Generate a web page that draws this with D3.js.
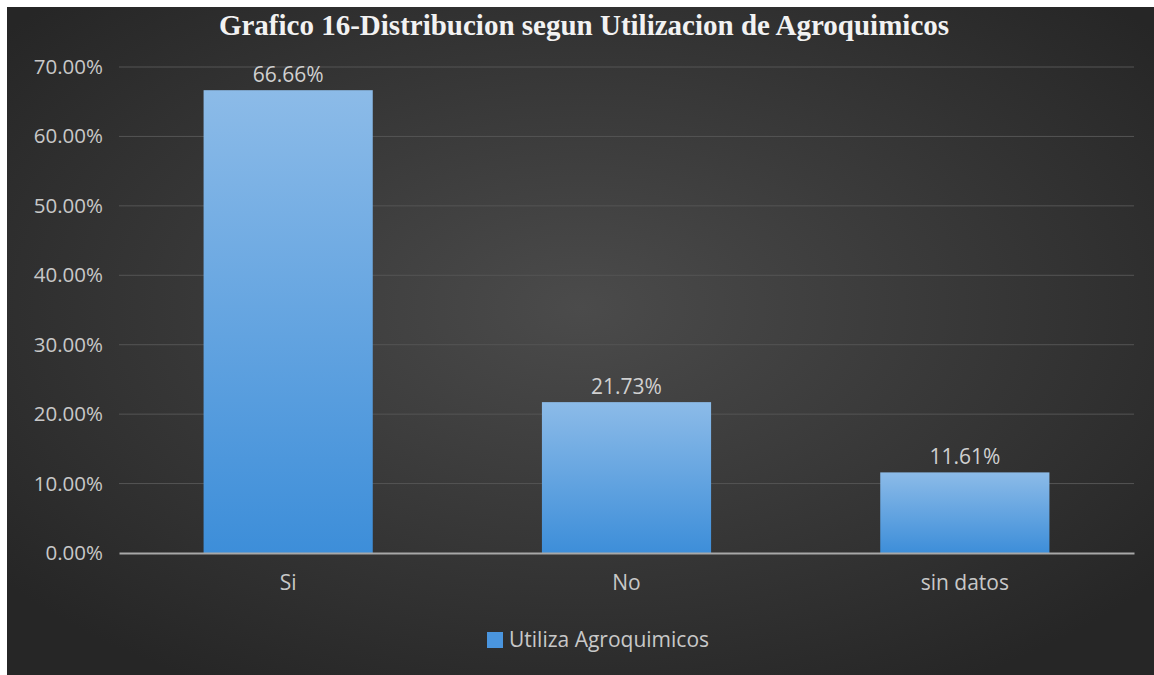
<!DOCTYPE html>
<html>
<head>
<meta charset="utf-8">
<script src="https://cdn.jsdelivr.net/npm/d3@7"></script>
<style>
  body { margin: 0; background: #fff; }
  text { font-family: "Open Sans", "Noto Sans", sans-serif; }
</style>
</head>
<body>
<div id="chart"></div>
<script>
// data
var categories = ["Si", "No", "sin datos"];
var values = [0.6666, 0.2173, 0.1161];
var yTicks = [0, 0.1, 0.2, 0.3, 0.4, 0.5, 0.6, 0.7];
var seriesName = "Utiliza Agroquimicos";
var title = "Grafico 16-Distribucion segun Utilizacion de Agroquimicos";

var svgWidth = 1154, svgHeight = 675;
var margin = {top: 67, right: 20, bottom: 122, left: 119};
var chartWidth = 1134 - margin.left;
var chartHeight = 553 - margin.top;

var svg = d3.select("#chart").append("svg")
  .attr("width", svgWidth)
  .attr("height", svgHeight);

var defs = svg.append("defs");
var bg = defs.append("radialGradient").attr("id", "bg")
  .attr("cx", "50%").attr("cy", "45%").attr("r", "65%");
bg.append("stop").attr("offset", "0%").attr("stop-color", "#4b4b4b");
bg.append("stop").attr("offset", "100%").attr("stop-color", "#262626");

var barGrad = defs.append("linearGradient").attr("id", "bar")
  .attr("x1", 0).attr("y1", 0).attr("x2", 0).attr("y2", 1);
barGrad.append("stop").attr("offset", "0%").attr("stop-color", "#8cbbe8");
barGrad.append("stop").attr("offset", "100%").attr("stop-color", "#3d8ed9");

// background panel
svg.append("rect")
  .attr("x", 7).attr("y", 7)
  .attr("width", svgWidth - 7).attr("height", svgHeight - 7)
  .attr("fill", "url(#bg)");

// title
svg.append("text")
  .attr("x", 584).attr("y", 35)
  .attr("text-anchor", "middle")
  .style("font-family", "'Liberation Serif', 'Times New Roman', serif")
  .style("font-weight", "bold")
  .style("font-size", "29px")
  .attr("fill", "#f2f2f2")
  .text(title);

var chartGroup = svg.append("g")
  .attr("transform", `translate(${margin.left}, ${margin.top})`);

var x = d3.scaleBand()
  .domain(categories)
  .range([0, chartWidth])
  .paddingInner(0.5)
  .paddingOuter(0.25);

var y = d3.scaleLinear()
  .domain([0, 0.7])
  .range([chartHeight, 0]);

// gridlines
chartGroup.append("g")
  .selectAll("line")
  .data(yTicks.slice(1))
  .enter()
  .append("line")
  .attr("x1", 0).attr("x2", chartWidth)
  .attr("y1", d => y(d)).attr("y2", d => y(d))
  .attr("stroke", "#555")
  .attr("stroke-width", 1);

// y axis labels
var leftAxis = d3.axisLeft(y).tickValues(yTicks)
  .tickFormat(d => (d * 100).toFixed(2) + "%")
  .tickSize(0).tickPadding(16);
var yAxisG = chartGroup.append("g").call(leftAxis);
yAxisG.select(".domain").remove();
yAxisG.selectAll("text")
  .attr("fill", "#c8c8c8")
  .style("font-size", "20.5px");

// bars
chartGroup.selectAll("rect.bar")
  .data(values)
  .enter()
  .append("rect")
  .attr("class", "bar")
  .attr("x", (d, i) => x(categories[i]))
  .attr("y", d => y(d))
  .attr("width", x.bandwidth())
  .attr("height", d => chartHeight - y(d))
  .attr("fill", "url(#bar)");

// data labels
chartGroup.selectAll("text.lbl")
  .data(values)
  .enter()
  .append("text")
  .attr("class", "lbl")
  .attr("x", (d, i) => x(categories[i]) + x.bandwidth() / 2)
  .attr("y", d => y(d) - 8)
  .attr("text-anchor", "middle")
  .attr("fill", "#d0d0d0")
  .style("font-size", "21px")
  .text(d => (d * 100).toFixed(2) + "%");

// x axis
var bottomAxis = d3.axisBottom(x).tickSize(0).tickPadding(22);
var xAxisG = chartGroup.append("g")
  .attr("transform", `translate(0, ${chartHeight})`)
  .call(bottomAxis);
xAxisG.select(".domain").attr("stroke", "#a8a8a8").attr("stroke-width", 2);
xAxisG.selectAll("text")
  .attr("fill", "#c8c8c8")
  .style("font-size", "21px");

// legend
var legend = svg.append("g").attr("transform", "translate(487, 640)");
legend.append("rect")
  .attr("x", 0).attr("y", -8)
  .attr("width", 16).attr("height", 16)
  .attr("fill", "#4a95de");
legend.append("text")
  .attr("x", 22).attr("y", 0)
  .attr("dy", "0.35em")
  .attr("fill", "#c8c8c8")
  .style("font-size", "21px")
  .text(seriesName);
</script>
</body>
</html>
